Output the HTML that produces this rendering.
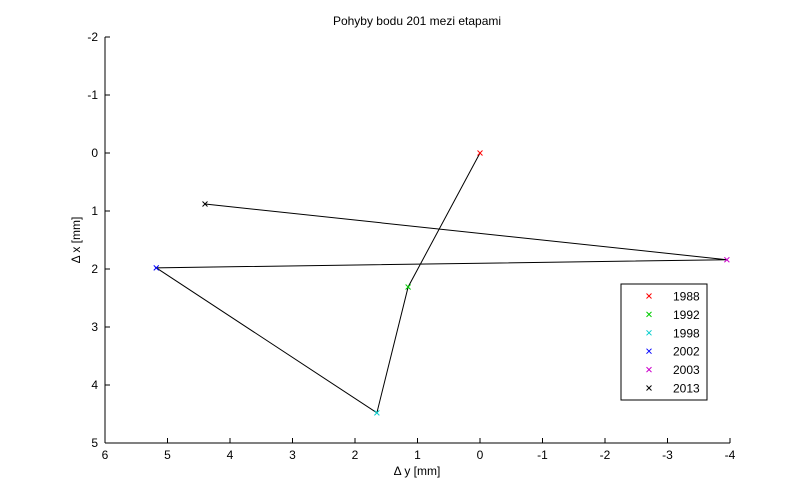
<!DOCTYPE html>
<html><head><meta charset="utf-8"><style>
body{margin:0;background:#fff;}
svg{display:block;font-family:"Liberation Sans",sans-serif;}
</style></head><body>
<svg id="c" width="806" height="498"></svg>
<script>
const years=["1988","1992","1998","2002","2003","2013"];
const dy=[0,1.15,1.65,5.18,-3.95,4.4];
const dx=[0,2.31,4.48,1.98,1.84,0.88];
const colors=["#f00","#0c0","#0cc","#00f","#c0c","#000"];
const xTicks=[6,5,4,3,2,1,0,-1,-2,-3,-4];
const yTicks=[-2,-1,0,1,2,3,4,5];
const L=105,R=730,T=37,B=443;
const sx=v=>L+(6-v)*(R-L)/10;
const sy=v=>T+(v+2)*(B-T)/7;
const svg=document.getElementById('c');
const NS="http://www.w3.org/2000/svg";
function mk(tag,attrs,parent){const e=document.createElementNS(NS,tag);for(const k in attrs)e.setAttribute(k,attrs[k]);(parent||svg).appendChild(e);return e;}
let e;
e=mk('line',{x1:L,y1:T,x2:L,y2:B,stroke:'#000'});


e=mk('line',{x1:L,y1:B,x2:R,y2:B,stroke:'#000'});


xTicks.forEach(t=>{const x=sx(t);
mk('line',{x1:x,y1:B,x2:x,y2:B-5,stroke:'#000'});
e=mk('text',{x:x,y:B+16,'text-anchor':'middle','font-size':12});e.textContent=t;

});
yTicks.forEach(t=>{const y=sy(t);
mk('line',{x1:L,y1:y,x2:L+5,y2:y,stroke:'#000'});
e=mk('text',{x:L-7,y:y+4,'text-anchor':'end','font-size':12});e.textContent=t;

});
e=mk('text',{x:417,y:25,'text-anchor':'middle','font-size':12});e.textContent='Pohyby bodu 201 mezi etapami';


e=mk('text',{x:417,y:475,'text-anchor':'middle','font-size':12});e.textContent='Δ y [mm]';


e=mk('text',{x:0,y:0,'text-anchor':'middle','font-size':12,transform:'translate(80,240) rotate(-90)'});e.textContent='Δ x [mm]';


e=mk('polyline',{points:dy.map((v,i)=>sx(v)+','+sy(dx[i])).join(' '),fill:'none',stroke:'#000','stroke-width':1});


function cross(x,y,c){const g=mk('g',{stroke:c});mk('line',{x1:x-2.5,y1:y-2.5,x2:x+2.5,y2:y+2.5},g);mk('line',{x1:x-2.5,y1:y+2.5,x2:x+2.5,y2:y-2.5},g);return g;}
dy.forEach((v,i)=>{e=cross(sx(v),sy(dx[i]),colors[i]);

});
e=mk('rect',{x:621,y:284,width:86,height:116,fill:'#fff',stroke:'#000'});


years.forEach((yr,i)=>{const y=296+i*18.4;
e=cross(649,y,colors[i]);


e=mk('text',{x:673,y:y+4.5,'font-size':12});e.textContent=yr;

});
</script>
</body></html>
